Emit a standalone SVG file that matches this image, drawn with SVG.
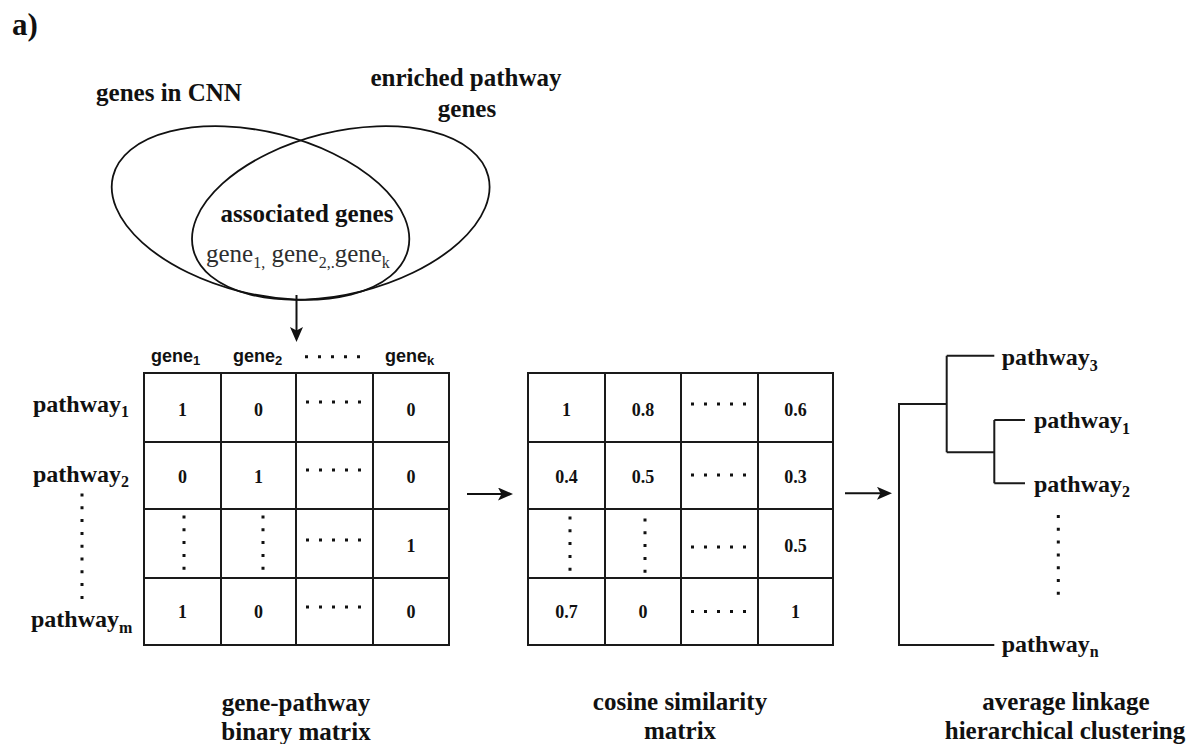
<svg xmlns="http://www.w3.org/2000/svg" width="1193" height="744" viewBox="0 0 1193 744">
<style>
.bg{fill:#ffffff}
.ser{font-family:"Liberation Serif","Times New Roman",serif;fill:#111}
.b{font-weight:bold}
.big{font-size:25px}
.lab{font-size:24px}
.num{font-size:18px;font-weight:bold;font-family:"Liberation Serif","Times New Roman",serif;fill:#111;text-anchor:middle}
.hdr{font-family:"Liberation Sans",Arial,sans-serif;font-weight:bold;font-size:18px;fill:#111}
.mid{text-anchor:middle}
.ell{fill:none;stroke:#111;stroke-width:1.8}
.grid{fill:none;stroke:#1a1a1a;stroke-width:2}
.dend{fill:none;stroke:#1a1a1a;stroke-width:2}
.dots{stroke:#111;stroke-width:3;stroke-dasharray:3 10;fill:none}
.vdots{stroke:#111;stroke-width:3;stroke-dasharray:3 9.8;fill:none}
.arr{stroke:#111;stroke-width:2;fill:none;marker-end:url(#ah)}
</style>
<defs>
<marker id="ah" viewBox="0 0 15 13" refX="8" refY="6.5" markerWidth="15" markerHeight="13" orient="auto" markerUnits="userSpaceOnUse">
<path d="M0,0 L15,6.5 L0,13 L3.5,6.5 z" fill="#111"/>
</marker>
</defs>
<rect class="bg" x="0" y="0" width="1193" height="744"/>

<g id="panel-label">
<text class="ser b" x="12" y="35" font-size="31">a)</text>
</g>

<g id="venn">
<ellipse class="ell" cx="260.5" cy="213" rx="152" ry="81" transform="rotate(14 260.5 213)"/>
<ellipse class="ell" cx="340.8" cy="213" rx="152" ry="81" transform="rotate(-14 340.8 213)"/>
<text class="ser b big mid" x="169" y="101">genes in CNN</text>
<text class="ser b big mid" x="466" y="86">enriched pathway</text>
<text class="ser b big mid" x="467" y="116.5">genes</text>
<text class="ser b big mid" x="307" y="221.5">associated genes</text>
<text class="ser" x="206" y="261.5" font-size="25" style="fill:#2e2e2e">gene<tspan font-size="16" dy="6">1,</tspan><tspan dy="-6"> gene</tspan><tspan font-size="16" dy="6">2,.</tspan><tspan dy="-6">gene</tspan><tspan font-size="16" dy="6">k</tspan></text>
</g>

<g id="binary-matrix">
<rect class="grid" x="144" y="373" width="305" height="272"/>
<path class="grid" d="M221,373V645M296,373V645M373,373V645M144,442H449M144,509H449M144,578H449"/>
<text class="hdr" x="151" y="361.7">gene<tspan font-size="13" dy="3.5">1</tspan></text>
<text class="hdr" x="233" y="361.7">gene<tspan font-size="13" dy="3.5">2</tspan></text>
<text class="hdr" x="385" y="361.7">gene<tspan font-size="13" dy="3.5">k</tspan></text>
<line class="dots" x1="305" y1="356.7" x2="361" y2="356.7"/>
<text class="ser b lab" x="33" y="411.7">pathway<tspan font-size="16" dy="5.6">1</tspan></text>
<text class="ser b lab" x="33" y="481.7">pathway<tspan font-size="16" dy="5.6">2</tspan></text>
<text class="ser b lab" x="31" y="627.3">pathway<tspan font-size="16" dy="5.6">m</tspan></text>
<line class="vdots" x1="82" y1="493.5" x2="82" y2="600"/>
<text class="num" x="182.5" y="416">1</text>
<text class="num" x="258.5" y="416">0</text>
<text class="num" x="411" y="416">0</text>
<text class="num" x="182.5" y="483">0</text>
<text class="num" x="258.5" y="483">1</text>
<text class="num" x="411" y="483">0</text>
<text class="num" x="411" y="551.5">1</text>
<text class="num" x="182.5" y="618">1</text>
<text class="num" x="258.5" y="618">0</text>
<text class="num" x="411" y="618">0</text>
<line class="dots" x1="306" y1="402" x2="362" y2="402"/>
<line class="dots" x1="306" y1="470" x2="362" y2="470"/>
<line class="dots" x1="306" y1="540" x2="362" y2="540"/>
<line class="dots" x1="306" y1="607" x2="362" y2="607"/>
<line class="vdots" x1="184" y1="515.5" x2="184" y2="570"/>
<line class="vdots" x1="263" y1="515.5" x2="263" y2="570"/>
<text class="ser b big mid" x="296" y="711">gene-pathway</text>
<text class="ser b big mid" x="296" y="739.5">binary matrix</text>
</g>

<g id="cosine-matrix">
<rect class="grid" x="528" y="373" width="305" height="272"/>
<path class="grid" d="M605,373V645M681,373V645M758,373V645M528,442H833M528,509H833M528,578H833"/>
<text class="num" x="566.5" y="416">1</text>
<text class="num" x="643" y="416">0.8</text>
<text class="num" x="795.5" y="416">0.6</text>
<text class="num" x="566.5" y="483">0.4</text>
<text class="num" x="643" y="483">0.5</text>
<text class="num" x="795.5" y="483">0.3</text>
<text class="num" x="795.5" y="551.5">0.5</text>
<text class="num" x="566.5" y="618">0.7</text>
<text class="num" x="643" y="618">0</text>
<text class="num" x="795.5" y="618">1</text>
<line class="dots" x1="691" y1="404" x2="747" y2="404"/>
<line class="dots" x1="691" y1="475" x2="747" y2="475"/>
<line class="dots" x1="691" y1="547" x2="747" y2="547"/>
<line class="dots" x1="691" y1="611.5" x2="747" y2="611.5"/>
<line class="vdots" x1="570" y1="516.5" x2="570" y2="571"/>
<line class="vdots" x1="645" y1="518.5" x2="645" y2="573"/>
<text class="ser b big mid" x="680" y="710">cosine similarity</text>
<text class="ser b big mid" x="680" y="738.5">matrix</text>
</g>

<g id="dendrogram">
<path class="dend" d="M946.7,404H899V645H994.3M946.7,355.7V452.3M946.7,355.7H994.3M946.7,452.3H994.3M994.3,420V483.3M994.3,420H1025M994.3,483.3H1025"/>
<text class="ser b lab" x="1001.7" y="365">pathway<tspan font-size="16" dy="5.6">3</tspan></text>
<text class="ser b lab" x="1034" y="428.3">pathway<tspan font-size="16" dy="5.6">1</tspan></text>
<text class="ser b lab" x="1034" y="491.7">pathway<tspan font-size="16" dy="5.6">2</tspan></text>
<text class="ser b lab" x="1001.7" y="651.7">pathway<tspan font-size="16" dy="5.6">n</tspan></text>
<line class="vdots" x1="1058.3" y1="515" x2="1058.3" y2="597"/>
<text class="ser b big mid" x="1066" y="710">average linkage</text>
<text class="ser b big mid" x="1065" y="738.5">hierarchical clustering</text>
</g>

<g id="connectors">
<line class="arr" x1="296.5" y1="295" x2="296.5" y2="335"/>
<line class="arr" x1="467" y1="494" x2="506" y2="494"/>
<line class="arr" x1="845" y1="493.3" x2="885" y2="493.3"/>
</g>
</svg>
